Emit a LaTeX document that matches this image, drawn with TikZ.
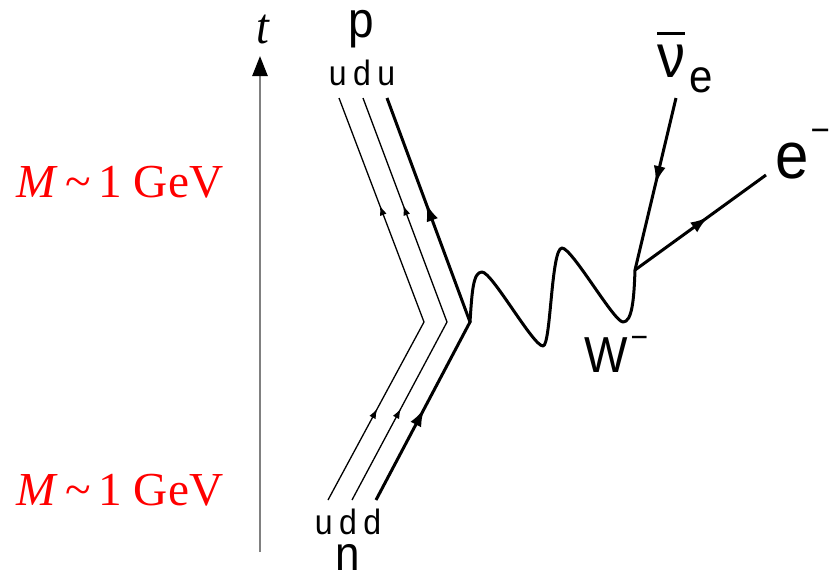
\documentclass[tikz,border=0pt]{standalone}
\usepackage{fontspec}
\usepackage{graphicx}
\usetikzlibrary{arrows.meta,decorations.markings}
\newfontfamily\labelsans{Liberation Sans}
\newfontfamily\serifface{Liberation Serif}
\newcommand\vstretch[1]{\scalebox{1}[1.1]{#1}}
\newcommand\fsz[1]{\fontsize{#1}{#1}\selectfont}
\newcommand\massline{{\serifface\textit{M}\hspace{0.16em}\char"7E\hspace{0.16em}1 GeV}}
\begin{document}
\begin{tikzpicture}[x=1pt,y=-1pt,
  lab/.style={inner sep=0pt, font=\labelsans},
  redlab/.style={inner sep=0pt, text=red, anchor=base west},
  axisline/.style={line width=2.5pt, draw=gray, -{Triangle[length=20pt,width=15pt,color=black]}},
  thinquark/.style={line width=1.3pt, postaction={decorate},
    decoration={markings,
      mark=at position 0.235 with {\arrow{Latex[length=10pt,width=7pt]}},
      mark=at position 0.74 with {\arrow{Latex[length=10pt,width=7pt]}}}},
  thickquark/.style={line width=3pt, postaction={decorate},
    decoration={markings,
      mark=at position 0.235 with {\arrow{Latex[length=18pt,width=12pt]}},
      mark=at position 0.745 with {\arrow{Latex[length=18pt,width=12pt]}}}},
  lepton/.style={line width=3pt, postaction={decorate},
    decoration={markings,
      mark=at position #1 with {\arrow{Latex[length=18pt,width=12pt]}}}},
  boson/.style={line width=3pt, line cap=round, line join=round}
]
\useasboundingbox (0,0) rectangle (831,574);

% time axis
\coordinate (ax0) at (260,552);
\coordinate (ax1) at (260,56);
\draw[axisline] (ax0) -- (ax1);
\node[anchor=base, inner sep=0pt] (tlab) at (263,43) {\vstretch{\fsz{46}\serifface\textit{t}}};

% red labels
\node[redlab] (Mtop) at (16,197) {\scalebox{1.1}[1.1]{\fsz{43}\massline}};
\node[redlab] (Mbot) at (16,505) {\scalebox{1.1}[1.1]{\fsz{43}\massline}};

% quark lines
\coordinate (b1) at (328,500); \coordinate (v1) at (424,322); \coordinate (t1) at (339,98);
\coordinate (b2) at (352,500); \coordinate (v2) at (447,322); \coordinate (t2) at (363,98);
\coordinate (b3) at (376,500); \coordinate (v3) at (470,322); \coordinate (t3) at (387,98);
\draw[thinquark] (b1) -- (v1) -- (t1);
\draw[thinquark] (b2) -- (v2) -- (t2);
\draw[thickquark] (b3) -- (v3) -- (t3);

% W boson
\coordinate (vl) at (635,270);
\draw[boson] (v3) .. controls (472,292) and (473,272) .. (482,272)
  .. controls (492,272) and (533,346) .. (543,346)
  .. controls (551,346) and (551,248) .. (562,248)
  .. controls (572,248) and (614,322) .. (623,322)
  .. controls (632,322) and (634,300) .. (vl);

% leptons
\coordinate (nuend) at (676,98);
\coordinate (eend) at (766,175);
\draw[lepton=0.5] (nuend) -- (vl);
\draw[lepton=0.56] (vl) -- (eend);

% labels
\node[lab, anchor=base] (p) at (361,37) {\vstretch{\fsz{46}p}};
\node[lab, anchor=base] (udu) at (362,85) {\vstretch{\fsz{32}u\hspace{6.5pt}d\hspace{6.5pt}u}};
\node[lab, anchor=base] (udd) at (348,534) {\vstretch{\fsz{32}u\hspace{6.5pt}d\hspace{6.5pt}d}};
\node[lab, anchor=base] (n) at (348,570) {\vstretch{\fsz{44}n}};
\node[lab, anchor=base west] (W) at (584,372) {\vstretch{\fsz{46}W\hspace{3pt}\raisebox{21pt}{\fsz{30}−}}};
\node[lab, anchor=base west] (nu) at (657,77) {\vstretch{\fsz{56}\vbox{\hrule height 2.7pt\kern 9pt\hbox{ν}}\hspace{4pt}\raisebox{-14pt}{\fsz{42}e}}};
\node[lab, anchor=base west] (e) at (775,178) {\vstretch{\fsz{60}e\hspace{2pt}\raisebox{32pt}{\fsz{33}−}}};
\end{tikzpicture}
\end{document}
